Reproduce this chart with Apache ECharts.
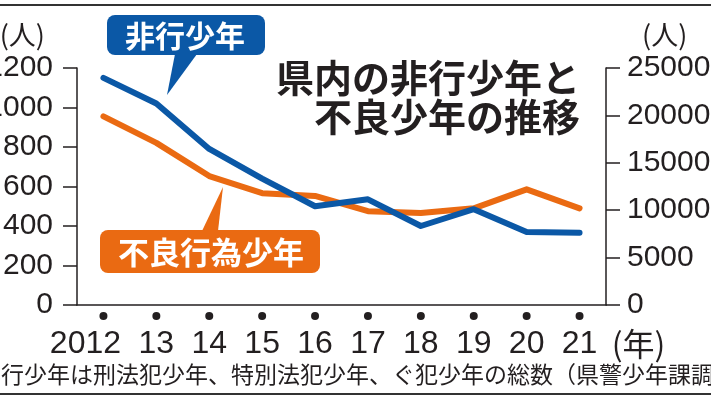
<!DOCTYPE html>
<html><head><meta charset="utf-8">
<script src="https://cdn.jsdelivr.net/npm/echarts@6/dist/echarts.min.js"></script>
<style>html,body{margin:0;padding:0;background:#fff;}#c{width:711px;height:400px;}</style>
</head><body><div id="c"></div>
<script>
const years = ['2012','13','14','15','16','17','18','19','20','21'];
const hikouShonen = [1150, 1020, 790, 640, 500, 535, 400, 485, 370, 366];
const furyouShonen = [19900, 17100, 13600, 11800, 11500, 9900, 9700, 10200, 12200, 10200];
const leftTicks = {min: 0, max: 1200, interval: 200};
const rightTicks = {min: 0, max: 25000, interval: 5000};
const title = '県内の非行少年と\n不良少年の推移';
const note = '非行少年は刑法犯少年、特別法犯少年、ぐ犯少年の総数（県警少年課調べ）';

const BLUE = '#0b58a6', ORANGE = '#ea6a12', INK = '#231f20';
const NUM = '"Liberation Sans", Arial, sans-serif';
const JP = '"Noto Sans CJK JP", sans-serif';
const plain = v => String(v);

const chart = echarts.init(document.getElementById('c'), null, {renderer: 'canvas'});
chart.setOption({
  animation: false,
  backgroundColor: '#fff',
  grid: {left: 77, right: 105, top: 68, bottom: 95, containLabel: false, outerBoundsMode: 'none'},
  xAxis: {
    type: 'category', data: years, boundaryGap: true,
    axisLine: {lineStyle: {color: INK, width: 1.5}},
    axisTick: {show: false},
    axisLabel: {
      interval: 0, margin: 6,
      formatter: function (v, i) {
        if (i === 0) return '{dot| }\n{v|20}{v|12}{pa|}';
        if (i === years.length - 1) return '{dot| }\n{pb|}{v|' + v + '}{u|(年)}';
        return '{dot| }\n{v|' + v + '}';
      },
      rich: {
        dot: {width: 8, height: 8, borderRadius: 4, backgroundColor: INK, lineHeight: 10, fontSize: 1},
        v: {fontSize: 32, fontFamily: NUM, color: INK, lineHeight: 46},
        pa: {width: 36, lineHeight: 46},
        pb: {width: 68, lineHeight: 46},
        u: {width: 68, align: 'right', fontSize: 32, fontFamily: JP, color: INK, lineHeight: 46}
      }
    }
  },
  yAxis: [
    {
      type: 'value', position: 'left', min: leftTicks.min, max: leftTicks.max, interval: leftTicks.interval,
      name: '(人)', nameLocation: 'end', nameGap: 20,
      nameTextStyle: {fontFamily: JP, fontSize: 27, color: INK, align: 'right', padding: [0, 32, 0, 0]},
      axisLine: {show: true, lineStyle: {color: INK, width: 1.5}},
      axisTick: {show: true, length: 14, lineStyle: {color: INK, width: 1.5}},
      splitLine: {show: false},
      axisLabel: {margin: 24, fontSize: 30, fontFamily: NUM, color: INK, formatter: plain}
    },
    {
      type: 'value', position: 'right', min: rightTicks.min, max: rightTicks.max, interval: rightTicks.interval,
      name: '(人)', nameLocation: 'end', nameGap: 20,
      nameTextStyle: {fontFamily: JP, fontSize: 27, color: INK, align: 'left', padding: [0, 0, 0, 36]},
      axisLine: {show: true, lineStyle: {color: INK, width: 1.5}},
      axisTick: {show: true, length: 14, lineStyle: {color: INK, width: 1.5}},
      splitLine: {show: false},
      axisLabel: {margin: 21, fontSize: 30, fontFamily: NUM, color: INK, formatter: plain}
    }
  ],
  series: [
    {
      name: '不良行為少年', type: 'line', yAxisIndex: 1, data: furyouShonen,
      showSymbol: false, symbol: 'none', smooth: false,
      lineStyle: {color: ORANGE, width: 6, cap: 'round', join: 'round'}, z: 2
    },
    {
      name: '非行少年', type: 'line', yAxisIndex: 0, data: hikouShonen,
      showSymbol: false, symbol: 'none', smooth: false,
      lineStyle: {color: BLUE, width: 6, cap: 'round', join: 'round'}, z: 3
    }
  ],
  graphic: [
    {type: 'line', shape: {x1: 0, y1: 5, x2: 711, y2: 5}, style: {stroke: '#333', lineWidth: 2}},
    {type: 'line', shape: {x1: 0, y1: 394, x2: 711, y2: 394}, style: {stroke: '#333', lineWidth: 2}},
    {type: 'text', style: {x: 580, y: 58, text: title, align: 'right', verticalAlign: 'top',
      fontFamily: JP, fontSize: 38, fontWeight: 'bold', lineHeight: 39, fill: INK}},
    {type: 'text', style: {x: -22, y: 374, text: note, align: 'left', verticalAlign: 'middle',
      fontFamily: JP, fontSize: 23, fill: INK}},
    {type: 'rect', z: 10, shape: {x: 107, y: 15, width: 158, height: 40, r: 8}, style: {fill: BLUE}},
    {type: 'polygon', z: 10, shape: {points: [[175, 54], [197, 54], [167, 95]]}, style: {fill: BLUE}},
    {type: 'text', z: 11, style: {x: 185, y: 36, text: '非行少年', align: 'center', verticalAlign: 'middle',
      fontFamily: JP, fontSize: 30, fontWeight: 'bold', fill: '#fff'}},
    {type: 'rect', z: 10, shape: {x: 100, y: 230, width: 220, height: 43, r: 8}, style: {fill: ORANGE}},
    {type: 'polygon', z: 10, shape: {points: [[202, 231], [218, 231], [223, 187]]}, style: {fill: ORANGE}},
    {type: 'text', z: 11, style: {x: 211, y: 252, text: '不良行為少年', align: 'center', verticalAlign: 'middle',
      fontFamily: JP, fontSize: 31, fontWeight: 'bold', fill: '#fff'}}
  ]
});
</script></body></html>
